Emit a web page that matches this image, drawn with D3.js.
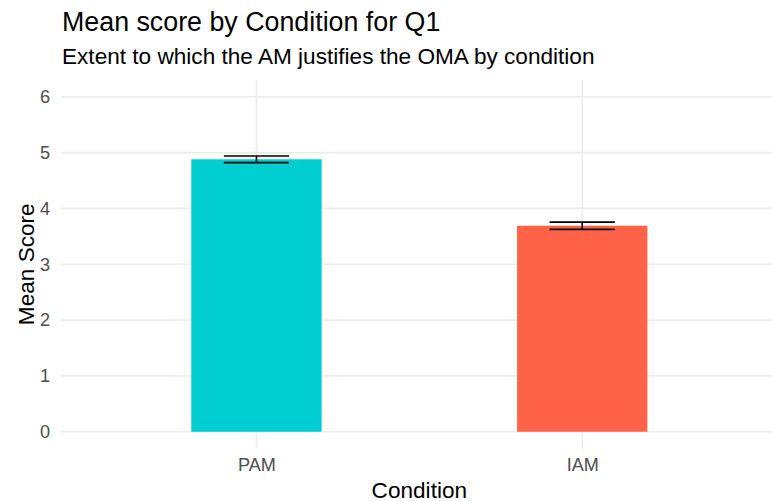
<!DOCTYPE html>
<html>
<head>
<meta charset="utf-8">
<script src="https://cdn.jsdelivr.net/npm/d3@7"></script>
<style>
html,body{margin:0;padding:0;background:#fff;}
svg{display:block;font-family:"Liberation Sans",Arial,Helvetica,sans-serif;}
</style>
</head>
<body>
<svg id="chart" width="772" height="501"></svg>
<script>
const categories = ["PAM", "IAM"];
const meanScores = [4.88, 3.69];
const errors = [0.06, 0.065];
const barColors = ["#00CED1", "#FF6347"];
const yTicks = [0, 1, 2, 3, 4, 5, 6];
const titleText = "Mean score by Condition for Q1";
const subtitleText = "Extent to which the AM justifies the OMA by condition";
const xTitle = "Condition";
const yTitle = "Mean Score";

const svg = d3.select("#chart");
const W = 772, H = 501;
const panel = {left: 61, right: 777.7, top: 80, bottom: 448.5};

// discrete x scale with ggplot-style 0.6 expansion
const unit = (panel.right - panel.left) / (categories.length - 1 + 1.2);
const x = d3.scalePoint().domain(categories)
  .range([panel.left + 0.6 * unit, panel.right - 0.6 * unit]);
const y = d3.scaleLinear().domain([-0.3, 6.3]).range([panel.bottom, panel.top]);

const g = svg.append("g");
const gridColor = "#EBEBEB";

// horizontal major grid
g.selectAll("line.hgrid").data(yTicks).enter().append("line")
  .attr("x1", panel.left).attr("x2", panel.right)
  .attr("y1", d => y(d)).attr("y2", d => y(d))
  .attr("stroke", gridColor).attr("stroke-width", 1.6);
// vertical major grid
g.selectAll("line.vgrid").data(categories).enter().append("line")
  .attr("x1", d => x(d)).attr("x2", d => x(d))
  .attr("y1", panel.top).attr("y2", panel.bottom)
  .attr("stroke", gridColor).attr("stroke-width", 1.6);

// bars
const barW = 0.4 * unit;
g.selectAll("rect.bar").data(categories).enter().append("rect")
  .attr("x", d => x(d) - barW / 2)
  .attr("width", barW)
  .attr("y", (d, i) => y(meanScores[i]))
  .attr("height", (d, i) => y(0) - y(meanScores[i]))
  .attr("fill", (d, i) => barColors[i]);

// error bars
const ebW = 0.2 * unit;
categories.forEach((c, i) => {
  const cx = x(c), hi = y(meanScores[i] + errors[i]), lo = y(meanScores[i] - errors[i]);
  const eg = g.append("g").attr("stroke", "#000").attr("stroke-width", 1.6).attr("fill", "none");
  eg.append("line").attr("x1", cx - ebW/2).attr("x2", cx + ebW/2).attr("y1", hi).attr("y2", hi);
  eg.append("line").attr("x1", cx - ebW/2).attr("x2", cx + ebW/2).attr("y1", lo).attr("y2", lo);
  eg.append("line").attr("x1", cx).attr("x2", cx).attr("y1", hi).attr("y2", lo);
});

// y axis
const yAxis = d3.axisLeft(y).tickValues(yTicks).tickSize(0).tickPadding(11).tickFormat(d3.format("d"));
const ya = svg.append("g").attr("transform", `translate(${panel.left},0)`).call(yAxis);
ya.select(".domain").remove();
ya.selectAll("text").attr("fill", "#4D4D4D").style("font-size", "18.1px");

// x axis
const xAxis = d3.axisBottom(x).tickSize(0).tickPadding(10);
const xa = svg.append("g").attr("transform", `translate(0,${panel.bottom})`).call(xAxis);
xa.select(".domain").remove();
xa.selectAll("text").attr("fill", "#4D4D4D").style("font-size", "18.1px");

// titles
svg.append("text").attr("x", 62).attr("y", 30.5).style("font-size", "26.8px").attr("fill", "#000").text(titleText);
svg.append("text").attr("x", 62).attr("y", 64).style("font-size", "22.6px").attr("fill", "#000").text(subtitleText);
svg.append("text").attr("x", (panel.left + panel.right) / 2).attr("y", 497.5)
  .attr("text-anchor", "middle").style("font-size", "22.6px").attr("fill", "#000").text(xTitle);
svg.append("text").attr("transform", `translate(34,${(panel.top + panel.bottom) / 2}) rotate(-90)`)
  .attr("text-anchor", "middle").style("font-size", "22.6px").attr("fill", "#000").text(yTitle);
</script>
</body>
</html>
